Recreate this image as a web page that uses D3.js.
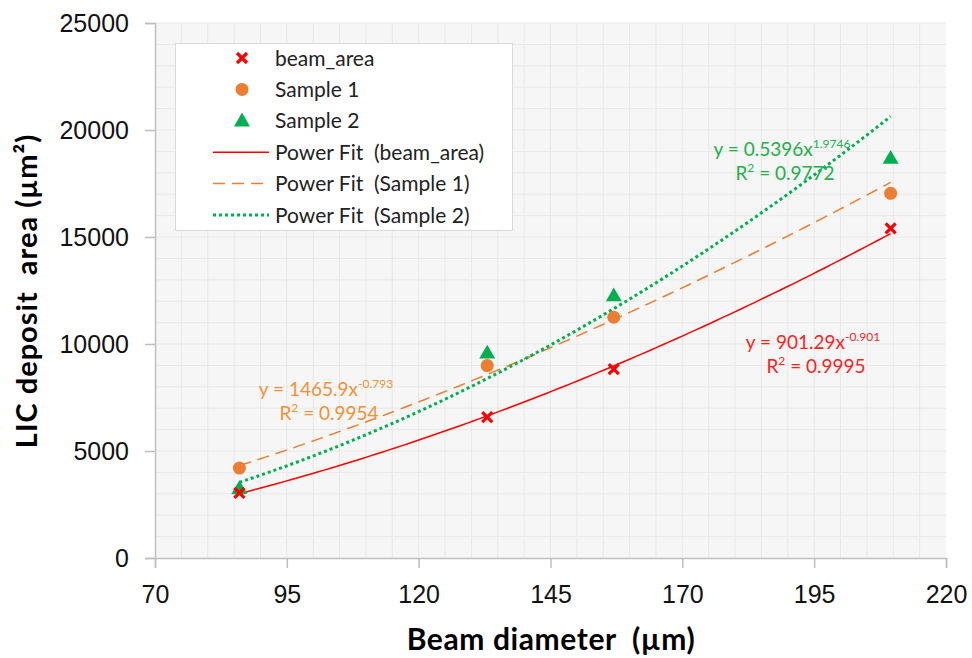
<!DOCTYPE html>
<html>
<head>
<meta charset="utf-8">
<script src="https://cdn.jsdelivr.net/npm/d3@7"></script>
<style>
  body { margin: 0; background: #fff; }
  svg { display: block; font-family: Lato, "Open Sans", sans-serif; }
</style>
</head>
<body>
<svg id="chart" width="972" height="658"></svg>
<script>
// Beam diameter (µm) and deposit areas (µm²)
const beamDiameter = [86, 133, 157, 209.5];
const beamArea = [3040, 6580, 8830, 15400];
const sample1 = [4200, 8990, 11250, 17040];
const sample2 = [3250, 9580, 12260, 18680];

const xTicks = [70, 95, 120, 145, 170, 195, 220];
const yTicks = [0, 5000, 10000, 15000, 20000, 25000];

const seriesNames = ["beam_area", "Sample 1", "Sample 2"];
const seriesColors = ["#ff0000", "#ed7d31", "#00b050"];
const fitNames = ["Power Fit  (beam_area)", "Power Fit  (Sample 1)", "Power Fit  (Sample 2)"];

// equation labels as printed on the chart: [coef, exponent, r2]
const fitLabels = [
  ["901.29", "-0.901", "0.9995"],
  ["1465.9", "-0.793", "0.9954"],
  ["0.5396", "1.9746", "0.9772"]
];

const svg = d3.select("#chart");
const margin = {top: 23, right: 26, bottom: 100, left: 155};
const W = 972, H = 658;

const x = d3.scaleLinear().domain([70, 220]).range([margin.left, W - margin.right]);
const y = d3.scaleLinear().domain([0, 25000]).range([H - margin.bottom, margin.top]);

// plot background
svg.append("rect")
  .attr("x", x(70)).attr("y", y(25000))
  .attr("width", x(220) - x(70)).attr("height", y(0) - y(25000))
  .attr("fill", "#f6f6f6");

// minor + major gridlines
const grid = svg.append("g");
grid.selectAll("line.vx")
  .data(d3.range(75, 220, 5))
  .join("line")
  .attr("x1", d => x(d)).attr("x2", d => x(d))
  .attr("y1", y(0)).attr("y2", y(25000))
  .attr("stroke", "#e8e8e8").attr("stroke-width", 1);
grid.selectAll("line.hy")
  .data(d3.range(1000, 25001, 1000))
  .join("line")
  .attr("x1", x(70)).attr("x2", x(220))
  .attr("y1", d => y(d)).attr("y2", d => y(d))
  .attr("stroke", "#e8e8e8").attr("stroke-width", 1);

// axes
const xAxis = svg.append("g")
  .attr("transform", `translate(0,${y(0)})`)
  .call(d3.axisBottom(x).tickValues(xTicks).tickSize(10).tickPadding(18).tickFormat(d3.format("d")));
const yAxis = svg.append("g")
  .attr("transform", `translate(${x(70)},0)`)
  .call(d3.axisLeft(y).tickValues(yTicks).tickSize(10).tickPadding(16).tickFormat(d3.format("d")));

[xAxis, yAxis].forEach(a => {
  a.select(".domain").attr("stroke", "#bfbfbf").attr("stroke-width", 1.5);
  a.selectAll(".tick line").attr("stroke", "#bfbfbf").attr("stroke-width", 1.5);
  a.selectAll(".tick text").attr("fill", "#111").style("font-size", "25px");
});
xAxis.selectAll(".tick text").attr("dy", "0.68em");

// axis titles
svg.append("text")
  .attr("x", 551).attr("y", 650)
  .attr("text-anchor", "middle").attr("xml:space", "preserve")
  .style("font-size", "30px").style("font-weight", "bold").style("letter-spacing", "0.6px")
  .text("Beam diameter  (µm)");
svg.append("text")
  .attr("transform", "translate(37,291) rotate(-90)")
  .attr("text-anchor", "middle").attr("xml:space", "preserve")
  .style("font-size", "29px").style("font-weight", "bold").style("letter-spacing", "1px")
  .text("LIC deposit  area (µm²)");

// power fit in log-log space (like a spreadsheet trendline)
function powerFit(xs, ys) {
  const lx = xs.map(Math.log), ly = ys.map(Math.log);
  const mx = d3.mean(lx), my = d3.mean(ly);
  const b = d3.sum(lx, (v, i) => (v - mx) * (ly[i] - my)) / d3.sum(lx, v => (v - mx) ** 2);
  const a = Math.exp(my - b * mx);
  return v => a * Math.pow(v, b);
}

const allSeries = [beamArea, sample1, sample2];
const dashes = [null, "12,7", "3,3"];
const fitWidths = [1.5, 1.5, 3];

const line = d3.line().x(d => x(d[0])).y(d => y(d[1])).curve(d3.curveLinear);
const xmin = d3.min(beamDiameter), xmax = d3.max(beamDiameter);

// trendlines
allSeries.forEach((vals, i) => {
  const f = powerFit(beamDiameter, vals);
  const pts = d3.range(0, 101).map(k => {
    const xv = xmin + (xmax - xmin) * k / 100;
    return [xv, f(xv)];
  });
  svg.append("path")
    .attr("d", line(pts))
    .attr("fill", "none")
    .attr("stroke", seriesColors[i])
    .attr("stroke-width", fitWidths[i])
    .attr("stroke-dasharray", dashes[i]);
});

// markers
function drawMarker(g, kind, color) {
  if (kind === 0) {
    g.append("path").attr("d", "M-5,-5L5,5M-5,5L5,-5")
      .attr("stroke", color).attr("stroke-width", 3.2).attr("fill", "none");
  } else if (kind === 1) {
    g.append("circle").attr("r", 6.5).attr("fill", color);
  } else {
    g.append("path").attr("d", d3.symbol(d3.symbolTriangle, 110)()).attr("fill", color)
      .attr("transform", "translate(0,1)");
  }
}

[2, 1, 0].forEach(i => {
  allSeries[i].forEach((v, j) => {
    const g = svg.append("g").attr("transform", `translate(${x(beamDiameter[j])},${y(v)})`);
    drawMarker(g, i, seriesColors[i]);
  });
});

// equation labels
const labelPos = [[816, 343], [329, 390], [785, 150]];
const labelColors = ["#ff1f1f", "#f0923a", "#22b04a"];
fitLabels.forEach((lab, i) => {
  const [cx, cy] = labelPos[i];
  const t = svg.append("text").attr("x", cx - 3).attr("y", cy + 6)
    .attr("text-anchor", "middle").attr("fill", labelColors[i])
    .style("font-size", "19px");
  t.append("tspan").text(`y = ${lab[0]}x`);
  t.append("tspan").attr("dy", -8).style("font-size", "12px").text(lab[1]);
  const r = svg.append("text").attr("x", cx).attr("y", cy + 30)
    .attr("text-anchor", "middle").attr("fill", labelColors[i])
    .style("font-size", "19px");
  r.append("tspan").text("R");
  r.append("tspan").attr("dy", -8).style("font-size", "12px").text("2");
  r.append("tspan").attr("dy", 8).text(" = " + lab[2]);
});

// legend
const legend = svg.append("g");
legend.append("rect")
  .attr("x", 175.5).attr("y", 43.5).attr("width", 337).attr("height", 187)
  .attr("fill", "#fff").attr("stroke", "#d9d9d9");

const rowY = d3.range(6).map(k => 58 + k * 31.4);
seriesNames.forEach((name, i) => {
  const g = legend.append("g").attr("transform", `translate(242,${rowY[i]})`);
  drawMarker(g, i, seriesColors[i]);
  legend.append("text").attr("x", 275).attr("y", rowY[i]).attr("dy", "0.36em")
    .attr("fill", "#222").style("font-size", "21px").text(name);
});
fitNames.forEach((name, i) => {
  const yy = rowY[i + 3];
  legend.append("line")
    .attr("x1", 213).attr("x2", 269).attr("y1", yy).attr("y2", yy)
    .attr("stroke", seriesColors[i]).attr("stroke-width", fitWidths[i])
    .attr("stroke-dasharray", dashes[i]);
  legend.append("text").attr("x", 275).attr("y", yy).attr("dy", "0.36em")
    .attr("fill", "#222").style("font-size", "21px")
    .attr("xml:space", "preserve").text(name);
});
</script>
</body>
</html>
